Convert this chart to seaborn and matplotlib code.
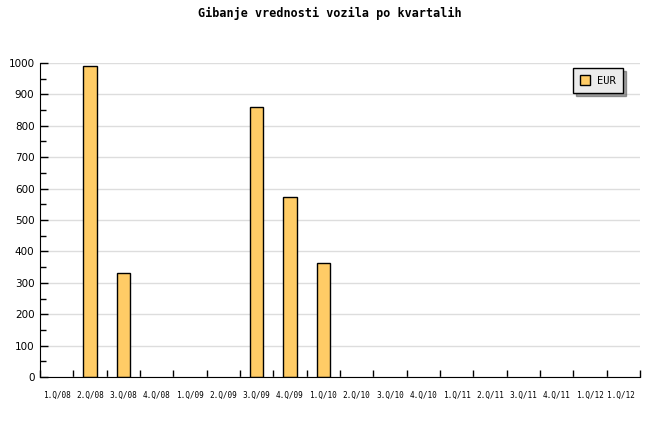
import pandas as pd
import matplotlib.pyplot as plt
import seaborn as sns

# quarters shown on the x axis
quarters = [
    "1.Q/08", "2.Q/08", "3.Q/08", "4.Q/08", "1.Q/09", "2.Q/09", "3.Q/09",
    "4.Q/09", "1.Q/10", "2.Q/10", "3.Q/10", "4.Q/10", "1.Q/11", "2.Q/11",
    "3.Q/11", "4.Q/11", "1.Q/12", "1.Q/12 ",
]
# only quarters with a value get a bar
bar_quarters = ["2.Q/08", "3.Q/08", "3.Q/09", "4.Q/09", "1.Q/10"]
eur_values = [990, 331, 860, 573, 363]

df = pd.DataFrame({"quarter": bar_quarters, "EUR": eur_values})

sns.set_style("white")
plt.rcParams["font.family"] = ["DejaVu Sans Mono", "DejaVu Sans"]
plt.rcParams["text.color"] = "black"
plt.rcParams["xtick.color"] = "black"
plt.rcParams["ytick.color"] = "black"

fig = plt.figure(figsize=(6.6, 4.4), dpi=100)
ax = fig.add_axes([40 / 660, 1 - 377 / 440, 600 / 660, 314 / 440])

sns.barplot(
    data=df, x="quarter", y="EUR", order=quarters, color="#ffcc66",
    saturation=1, width=0.4, edgecolor="black", linewidth=1, ax=ax,
    label="EUR",
)

ax.set_xlim(-0.5, len(quarters) - 0.5)
ax.set_ylim(0, 1000)
ax.set_yticks(range(0, 1001, 100))
ax.set_yticks(range(50, 1000, 100), minor=True)
ax.set_xticks([i - 0.5 for i in range(len(quarters) + 1)], minor=True)
ax.set_xticks(range(len(quarters)))
ax.set_xticklabels(quarters, fontsize=5.6)
ax.tick_params(axis="x", which="major", bottom=False, length=0, pad=10)
ax.tick_params(axis="x", which="minor", bottom=True, direction="in",
               length=5, width=1)
ax.tick_params(axis="y", which="major", left=True, direction="in", length=6,
               width=1, labelsize=7.5, pad=4)
ax.tick_params(axis="y", which="minor", left=True, direction="in", length=4,
               width=1)
for lbl in ax.get_yticklabels():
    lbl.set_family("DejaVu Sans")

ax.yaxis.grid(True, color="#dddddd", linewidth=1)
ax.set_axisbelow(True)
sns.despine(ax=ax)
ax.spines["left"].set_color("black")
ax.spines["bottom"].set_color("black")
ax.set_xlabel("")
ax.set_ylabel("")

leg = ax.legend(loc="upper right", bbox_to_anchor=(0.98, 1.0), fontsize=7.5,
                frameon=True, fancybox=False, shadow=True,
                facecolor="#ebebeb", edgecolor="black",
                handlelength=1.0, handleheight=1.0, borderpad=0.7,
                handletextpad=0.6)
leg.get_frame().set_linewidth(1)

fig.suptitle("Gibanje vrednosti vozila po kvartalih", y=0.985,
             fontsize=8.5, fontweight="bold")

fig.savefig("out.png", dpi=100)
